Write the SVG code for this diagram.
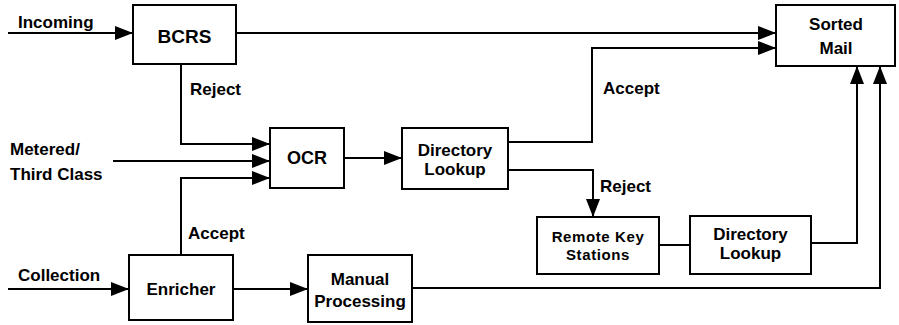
<svg xmlns="http://www.w3.org/2000/svg" width="899" height="325" viewBox="0 0 899 325">
<defs>
<style>
.box{fill:#fff;stroke:#000;stroke-width:2}
.lbl{font-family:"Liberation Sans",Arial,sans-serif;font-weight:bold;font-size:17px;fill:#000}
.c{text-anchor:middle}
.sm{font-size:15px;letter-spacing:0.6px}
.edge{fill:none;stroke:#000;stroke-width:2}
</style>
<marker id="ah" markerUnits="userSpaceOnUse" markerWidth="20" markerHeight="16" refX="18" refY="7" orient="auto">
<path d="M0,0 L18,7 L0,14 z" fill="#000"/>
</marker>
</defs>
<rect width="899" height="325" fill="#fff"/>
<g id="connectors">
<path class="edge" d="M8,33 H133" marker-end="url(#ah)"/>
<path class="edge" d="M236,33 H776" marker-end="url(#ah)"/>
<path class="edge" d="M181,64 V144 H270" marker-end="url(#ah)"/>
<path class="edge" d="M113,161 H270" marker-end="url(#ah)"/>
<path class="edge" d="M181,255 V178 H270" marker-end="url(#ah)"/>
<path class="edge" d="M344,158 H402" marker-end="url(#ah)"/>
<path class="edge" d="M508,142 H592 V48 H776" marker-end="url(#ah)"/>
<path class="edge" d="M508,170 H593 V217" marker-end="url(#ah)"/>
<path class="edge" d="M659,245 H690"/>
<path class="edge" d="M811,243 H857 V66" marker-end="url(#ah)"/>
<path class="edge" d="M8,289 H129" marker-end="url(#ah)"/>
<path class="edge" d="M233,289 H308" marker-end="url(#ah)"/>
<path class="edge" d="M412,288 H880 V66" marker-end="url(#ah)"/>
<text class="lbl" x="18" y="28">Incoming</text>
<text class="lbl" x="190" y="95">Reject</text>
<text class="lbl" x="603" y="94">Accept</text>
<text class="lbl" x="10" y="155">Metered/</text>
<text class="lbl" x="10" y="180">Third Class</text>
<text class="lbl" x="600" y="192">Reject</text>
<text class="lbl" x="188" y="239">Accept</text>
<text class="lbl" x="18" y="281">Collection</text>
</g>
<g id="bcrs">
<rect class="box" x="133" y="5" width="103" height="59"/>
<text class="lbl c" x="184.5" y="43" style="font-size:19px">BCRS</text>
</g>
<g id="sorted-mail">
<rect class="box" x="776" y="5" width="119" height="61"/>
<text class="lbl c" x="836" y="30">Sorted</text>
<text class="lbl c" x="836" y="54">Mail</text>
</g>
<g id="ocr">
<rect class="box" x="270" y="128" width="74" height="60"/>
<text class="lbl c" x="307" y="164" style="font-size:18px">OCR</text>
</g>
<g id="directory-lookup-1">
<rect class="box" x="402" y="128" width="106" height="61"/>
<text class="lbl c" x="455" y="156">Directory</text>
<text class="lbl c" x="455" y="175">Lookup</text>
</g>
<g id="remote-key-stations">
<rect class="box" x="537" y="217" width="122" height="57"/>
<text class="lbl c sm" x="598" y="242">Remote Key</text>
<text class="lbl c sm" x="598" y="260">Stations</text>
</g>
<g id="directory-lookup-2">
<rect class="box" x="690" y="216" width="121" height="58"/>
<text class="lbl c" x="750.5" y="240">Directory</text>
<text class="lbl c" x="750.5" y="259">Lookup</text>
</g>
<g id="enricher">
<rect class="box" x="129" y="255" width="104" height="65"/>
<text class="lbl c" x="181" y="295">Enricher</text>
</g>
<g id="manual-processing">
<rect class="box" x="308" y="255" width="104" height="67"/>
<text class="lbl c" x="360" y="285">Manual</text>
<text class="lbl c" x="360" y="307">Processing</text>
</g>
</svg>
